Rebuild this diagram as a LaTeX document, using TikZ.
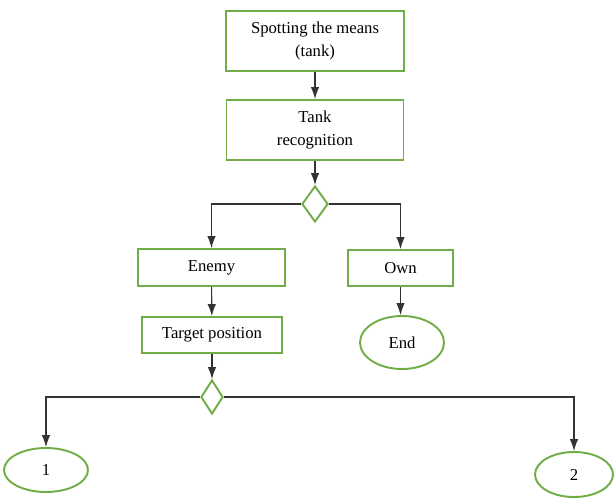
\documentclass[tikz,border=0pt]{standalone}
\usepackage{fontspec}
\setmainfont{Liberation Serif}
\usetikzlibrary{shapes.geometric,arrows.meta}
\definecolor{boxgreen}{RGB}{112,173,71}
\tikzset{
  stepbox/.style={draw=boxgreen, line width=1.1pt, inner sep=0pt, align=center,
    font=\fontsize{9.5}{13.5}\selectfont},
  choice/.style={draw=boxgreen, line width=1.1pt, shape=diamond, inner sep=0pt},
  finish/.style={draw=boxgreen, line width=1.1pt, shape=ellipse, inner sep=0pt,
    font=\fontsize{9.5}{13.5}\selectfont},
  link/.style={line width=0.6pt, black!80}
}
\begin{document}
\begin{tikzpicture}[>={Latex[length=2.4mm,width=1.7mm]}]
        \useasboundingbox (0,0) rectangle (12.28,-10);
        \node[stepbox, minimum width=3.56cm, minimum height=1.2cm] (spot) at (6.30,-0.82) {Spotting the means\\(tank)};
        \node[stepbox, minimum width=3.54cm, minimum height=1.2cm] (recog) at (6.30,-2.60) {Tank\\recognition};
        \node[choice, minimum width=0.52cm, minimum height=0.72cm] (d1) at (6.30,-4.08) {};
        \node[stepbox, minimum width=2.94cm, minimum height=0.74cm] (enemy) at (4.23,-5.35) {Enemy};
        \node[stepbox, minimum width=2.10cm, minimum height=0.72cm] (own) at (8.01,-5.36) {Own};
        \node[stepbox, minimum width=2.80cm, minimum height=0.72cm] (target) at (4.24,-6.70) {Target position};
        \node[finish, minimum width=1.68cm, minimum height=1.06cm] (end) at (8.04,-6.85) {End};
        \node[choice, minimum width=0.44cm, minimum height=0.68cm] (d2) at (4.24,-7.94) {};
        \node[finish, minimum width=1.68cm, minimum height=0.88cm] (e1) at (0.92,-9.40) {1};
        \node[finish, minimum width=1.56cm, minimum height=0.90cm] (e2) at (11.48,-9.49) {2};
        \draw[link,->] (spot) -- (recog);
        \draw[link,->] (recog) -- (d1);
        \draw[link,->] (d1.west) -| (enemy.north);
        \draw[link,->] (d1.east) -| (own.north);
        \draw[link,->] (enemy) -- (target);
        \draw[link,->] (own) -- (own.south |- end.north);
        \draw[link,->] (target) -- (d2);
        \draw[link,->] (d2.west) -| (e1.north);
        \draw[link,->] (d2.east) -| (e2.north);
    \end{tikzpicture}
\end{document}
